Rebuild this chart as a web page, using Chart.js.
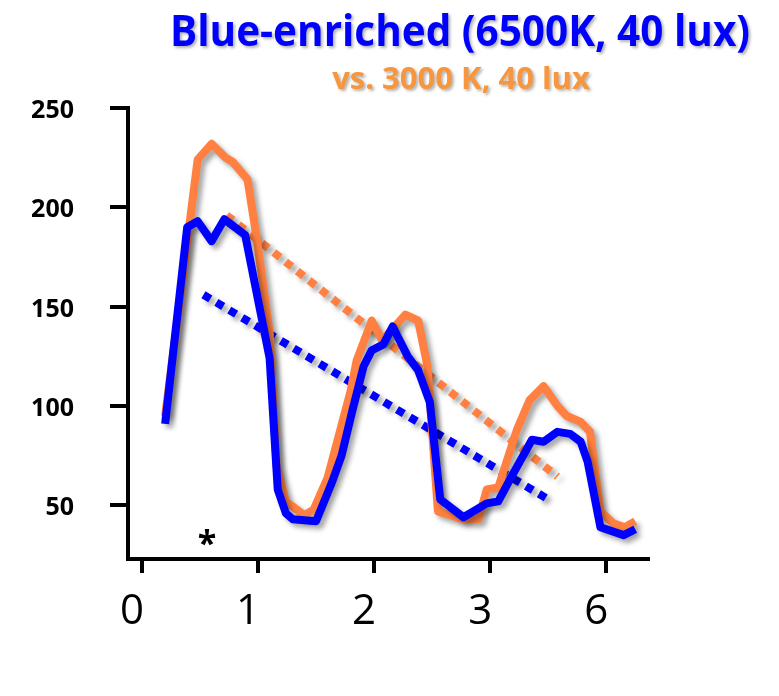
<!DOCTYPE html>
<html>
<head>
<meta charset="utf-8">
<script src="https://cdn.jsdelivr.net/npm/chart.js@4.4.0/dist/chart.umd.min.js"></script>
<style>
  html, body { margin: 0; padding: 0; background: #fff; }
</style>
</head>
<body>
<canvas id="lightChart" width="779" height="696"></canvas>
<script>
// values (x in axis units, last tick is labelled "6")
const blueX = [0.2, 0.39, 0.48, 0.60, 0.71, 0.89, 1.10, 1.17, 1.24, 1.30, 1.50, 1.64, 1.72, 1.81, 1.91, 1.98, 2.08, 2.16, 2.29, 2.38, 2.48, 2.57, 2.77, 2.97, 3.07, 3.17, 3.36, 3.46, 3.58, 3.69, 3.78, 3.84, 3.95, 4.15, 4.25];
const blueY = [91, 190, 193, 183, 194, 186, 124, 58, 46, 43, 42, 62, 75, 97, 120, 128, 131, 140, 125, 118, 102, 53, 44, 51, 52, 63, 83, 82, 87, 86, 82, 72, 39, 35, 38];

const orangeX = [0.2, 0.48, 0.60, 0.72, 0.78, 0.91, 0.99, 1.10, 1.16, 1.24, 1.40, 1.48, 1.60, 1.80, 1.85, 1.98, 2.07, 2.27, 2.38, 2.46, 2.55, 2.77, 2.90, 2.97, 3.07, 3.23, 3.34, 3.46, 3.58, 3.66, 3.78, 3.86, 3.95, 4.06, 4.16, 4.25];
const orangeY = [95, 224, 232, 225, 223, 214, 184, 137, 70, 52, 45, 48, 64, 108, 123, 143, 133, 146, 143, 120, 47, 43, 43, 58, 59, 88, 103, 110, 100, 95, 92, 87, 47, 41, 39, 42];

const blueTrendX = [0.53, 3.53];
const blueTrendY = [156, 52];
const orangeTrendX = [0.73, 3.58];
const orangeTrendY = [196, 64.5];

const yTicks = [50, 100, 150, 200, 250];
const xTickValues = [0, 1, 2, 3, 4];
const xTickLabels = ['0', '1', '2', '3', '6'];

const titleText = 'Blue-enriched (6500K, 40 lux)';
const subtitleText = 'vs. 3000 K, 40 lux';

const BLUE = '#0000FF';
const ORANGE = '#FF8040';

function toPoints(xs, ys) {
  return xs.map((x, i) => ({ x, y: ys[i] }));
}

function drawFitted(c, text, font, color, cx, baseline, width) {
  c.save();
  c.font = font;
  const w = c.measureText(text).width;
  const sx = Math.min(1, width / w);
  c.translate(cx, baseline);
  c.scale(sx, 1);
  c.fillStyle = color;
  c.textAlign = 'center';
  c.textBaseline = 'alphabetic';
  c.shadowColor = 'rgba(0,0,0,0.3)';
  c.shadowBlur = 3;
  c.shadowOffsetX = 2;
  c.shadowOffsetY = 2;
  c.fillText(text, 0, 0);
  c.restore();
}

const shadowPlugin = {
  id: 'shadow',
  beforeDatasetDraw(chart) {
    const c = chart.ctx;
    c.save();
    c.shadowColor = 'rgba(0,0,0,0.35)';
    c.shadowBlur = 5;
    c.shadowOffsetX = 4;
    c.shadowOffsetY = 4;
  },
  afterDatasetDraw(chart) {
    chart.ctx.restore();
  }
};

const headingPlugin = {
  id: 'heading',
  afterDraw(chart) {
    const c = chart.ctx;
    drawFitted(c, titleText, 'bold 43px "Open Sans"', BLUE, 460, 46, 580);
    drawFitted(c, subtitleText, 'bold 31px "Open Sans"', '#F7963C', 461, 89, 266);

    // significance mark
    const x = chart.scales.x.getPixelForValue(0.56);
    const y = chart.scales.y.getPixelForValue(34);
    c.save();
    c.font = 'bold 34px "Open Sans"';
    c.fillStyle = '#000';
    c.textAlign = 'center';
    c.textBaseline = 'middle';
    c.fillText('*', x, y + 8);
    c.restore();
  }
};

new Chart(document.getElementById('lightChart'), {
  type: 'line',
  data: {
    datasets: [
      { data: toPoints(blueX, blueY), borderColor: BLUE, borderWidth: 8, borderJoinStyle: 'round' },
      { data: toPoints(orangeX, orangeY), borderColor: ORANGE, borderWidth: 8, borderJoinStyle: 'round' },
      { data: toPoints(blueTrendX, blueTrendY), borderColor: BLUE, borderWidth: 8, borderDash: [8, 7] },
      { data: toPoints(orangeTrendX, orangeTrendY), borderColor: ORANGE, borderWidth: 8, borderDash: [8, 7] }
    ]
  },
  options: {
    responsive: false,
    animation: false,
    clip: false,
    elements: { point: { radius: 0 }, line: { tension: 0 } },
    layout: { padding: { left: 0, right: 131, top: 108, bottom: 0 } },
    plugins: { legend: { display: false }, tooltip: { enabled: false } },
    scales: {
      x: {
        type: 'linear',
        min: -0.12,
        max: 4.36,
        afterBuildTicks: s => { s.ticks = xTickValues.map(v => ({ value: v })); },
        afterFit: s => { s.height = 137; },
        ticks: {
          autoSkip: false,
          maxRotation: 0,
          callback: (v, i) => xTickLabels[i],
          color: '#000',
          font: { family: 'Open Sans', size: 42 },
          labelOffset: -10,
          padding: 14
        },
        grid: { drawOnChartArea: false, drawTicks: true, tickLength: 14, lineWidth: 4, color: '#000' },
        border: { display: true, width: 4, color: '#000' }
      },
      y: {
        min: 23,
        max: 250,
        afterBuildTicks: s => { s.ticks = yTicks.map(v => ({ value: v })); },
        afterFit: s => { s.width = 128; },
        ticks: {
          color: '#000',
          font: { family: 'Open Sans', size: 25, weight: 'bold' },
          padding: 36,
          labelOffset: 3
        },
        grid: { drawOnChartArea: false, drawTicks: true, tickLength: 18, lineWidth: 4, color: '#000' },
        border: { display: true, width: 4, color: '#000' }
      }
    }
  },
  plugins: [shadowPlugin, headingPlugin]
});
</script>
</body>
</html>
